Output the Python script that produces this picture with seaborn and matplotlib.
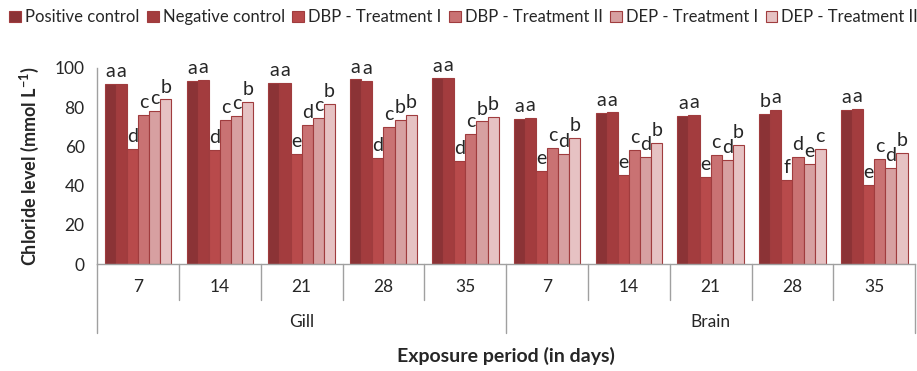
import numpy as np
import pandas as pd
import matplotlib
matplotlib.use('Agg')
import matplotlib.pyplot as plt
import matplotlib.transforms as mtransforms
import seaborn as sns

tissues = ['Gill', 'Brain']
days = ['7', '14', '21', '28', '35']
treatments = ['Positive control', 'Negative control', 'DBP - Treatment I',
              'DBP - Treatment II', 'DEP - Treatment I', 'DEP - Treatment II']

# one list per treatment, Gill 7..35 then Brain 7..35
positive_control = [91.8, 93.5, 92.3, 94.1, 94.6, 74.2, 77.0, 75.3, 76.5, 78.4]
negative_control = [91.8, 94.0, 92.4, 93.5, 95.0, 74.4, 77.3, 75.9, 78.4, 78.9]
dbp_treatment_1 = [58.9, 58.0, 56.0, 54.3, 52.7, 47.6, 45.5, 44.2, 43.0, 40.4]
dbp_treatment_2 = [75.8, 73.7, 70.8, 69.9, 66.5, 59.3, 58.2, 55.7, 54.8, 53.4]
dep_treatment_1 = [78.0, 75.4, 74.4, 73.5, 72.7, 56.0, 54.8, 53.1, 50.9, 49.0]
dep_treatment_2 = [83.9, 82.5, 81.6, 75.9, 75.1, 64.4, 61.7, 60.8, 58.8, 56.7]

# significance letters, per group (6 bars each)
letters = ['aadccb', 'aadccb', 'aaedcb', 'aadcbb', 'aadcbb',
           'aaecdb', 'aaecdb', 'aaecdb', 'bafdec', 'aaecdb']

colors = ['#8b3336', '#a33c3e', '#b84a4b', '#c97273', '#d7a0a1', '#e6c2c3']

series = [positive_control, negative_control, dbp_treatment_1,
          dbp_treatment_2, dep_treatment_1, dep_treatment_2]
groups = [t + ' ' + d for t in tissues for d in days]
rows = []
for name, vals in zip(treatments, series):
    for g, v in zip(groups, vals):
        rows.append({'group': g, 'treatment': name, 'value': v})
df = pd.DataFrame(rows)

sns.set_style('white')
plt.rcParams['font.family'] = ['Lato', 'DejaVu Sans']

fig = plt.figure(figsize=(9.17, 3.71), dpi=100)
ax = fig.add_axes([0.106, 0.288, 0.892, 0.529])

sns.barplot(data=df, x='group', y='value', hue='treatment', order=groups,
            hue_order=treatments, palette=colors, width=0.815,
            edgecolor='#a03c3e', linewidth=0.8, saturation=1, ax=ax)

ax.set_ylim(0, 100)
ax.set_xlim(-0.5, len(groups) - 0.5)
ax.set_yticks(range(0, 101, 20))
ax.tick_params(axis='y', length=5, width=0.8, color='#a0a0a0', labelsize=12.5, pad=4)
ax.tick_params(axis='x', length=0, labelbottom=False)
ax.set_xlabel('')
ax.set_ylabel('Chloride level (mmol L$^{\\mathregular{-1}}$)', fontsize=13,
              fontweight='bold', labelpad=10)
for s in ['top', 'right']:
    ax.spines[s].set_visible(False)
for s in ['left', 'bottom']:
    ax.spines[s].set_color('#a0a0a0')
    ax.spines[s].set_linewidth(1)

# letters above bars
for k, cont in enumerate(ax.containers):
    for i, bar in enumerate(cont):
        ax.text(bar.get_x() + bar.get_width() / 2, bar.get_height() + 2,
                letters[i][k], ha='center', va='bottom', fontsize=14,
                clip_on=False)

# two-level category axis
tr = mtransforms.blended_transform_factory(ax.transData, ax.transAxes)
for i in range(len(groups) + 1):
    x = i - 0.5
    bottom = -0.352 if i % 5 == 0 else -0.184
    ax.plot([x, x], [0, bottom], transform=tr, color='#a0a0a0', lw=1,
            clip_on=False)
for i, g in enumerate(groups):
    ax.text(i, -0.115, days[i % 5], transform=tr, ha='center', va='center',
            fontsize=12.5)
for j, t in enumerate(tissues):
    ax.text(j * 5 + 2, -0.296, t, transform=tr, ha='center', va='center',
            fontsize=12.5)
ax.text(0.5, -0.47, 'Exposure period (in days)', transform=ax.transAxes,
        ha='center', va='center', fontsize=14, fontweight='bold')

handles, labels = ax.get_legend_handles_labels()
ax.legend(handles, labels, loc='upper left', bbox_to_anchor=(0.0, 1.0),
          bbox_transform=fig.transFigure, ncol=6, frameon=False,
          fontsize=12, handlelength=0.7, handleheight=0.7,
          handletextpad=0.25, columnspacing=0.45, borderaxespad=0.35,
          borderpad=0.2)

fig.savefig('out.png', dpi=100)
